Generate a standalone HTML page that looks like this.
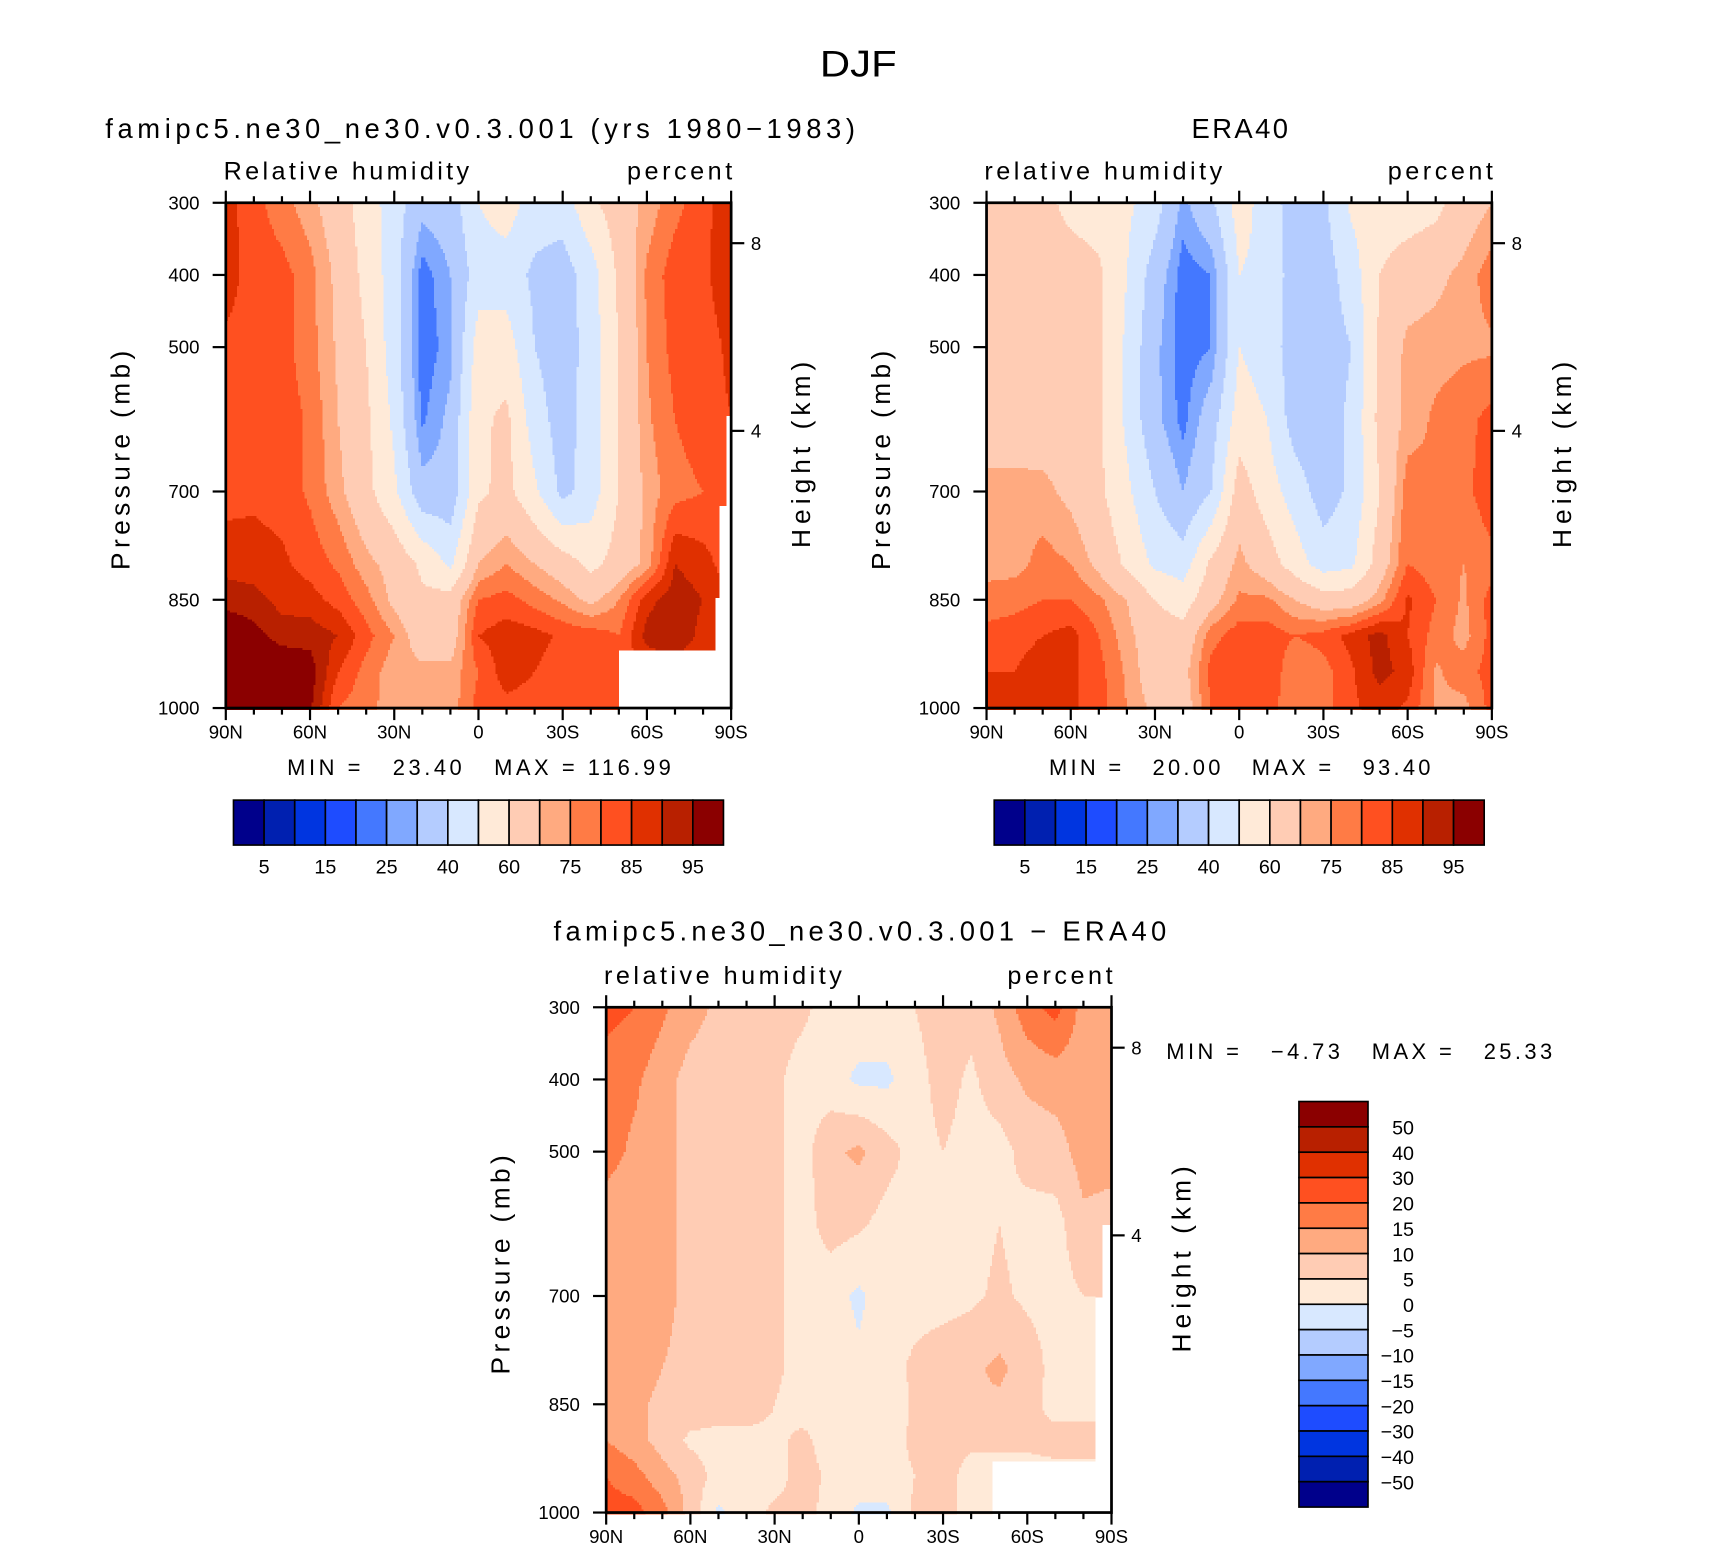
<!DOCTYPE html>
<html><head><meta charset="utf-8"><title>DJF Relative humidity</title>
<style>
html,body{margin:0;padding:0;background:#fff;}
svg{display:block;font-family:"Liberation Sans",sans-serif;}
text{fill:#000;white-space:pre;}
</style></head>
<body>
<svg id="fig" xmlns="http://www.w3.org/2000/svg" width="1710" height="1552" viewBox="0 0 1560 1416" preserveAspectRatio="none">
<rect x="0" y="0" width="1560" height="1416" fill="#fff"/>
<text x="748" y="70" font-size="34" textLength="70" lengthAdjust="spacingAndGlyphs">DJF</text>
<text x="96" y="126" font-size="25" textLength="684" lengthAdjust="spacing">famipc5.ne30_ne30.v0.3.001 (yrs 1980−1983)</text>
<text x="1087" y="126" font-size="25" textLength="88" lengthAdjust="spacing">ERA40</text>
<text x="505" y="858" font-size="25" textLength="559" lengthAdjust="spacing">famipc5.ne30_ne30.v0.3.001 − ERA40</text>
<g id="layers"></g>
</svg>
<script>
// ---- shared axes data ----
const latDeg = [0,10,20,30,40,50,60,70,80,90,100,110,120,130,140,150,160,170,180]; // degrees from 90N
const pLevels = [300,400,500,600,700,800,850,900,950,1000];
const xTickLat = [0,30,60,90,120,150,180];
const xTickLabels = ['90N','60N','30N','0','30S','60S','90S'];
const yTickP = [300,400,500,700,850,1000];
const yTickLabels = ['300','400','500','700','850','1000'];
const heightKm = [8,4];
const heightP = [356,616];
const colors = ['#00008b','#0020b0','#0035e0','#1e4cff','#4478ff','#80a8ff','#b4ccff','#d8e8ff','#ffead8','#ffccb4','#ffaa80','#ff7b45','#ff5020','#e03000','#b82000','#8b0000'];
const rhLevels = [5,10,15,20,25,30,40,50,60,70,75,80,85,90,95];
const rhBarLabels = ['5','15','25','40','60','75','85','95'];
const diffLevels = [-50,-40,-30,-20,-15,-10,-5,0,5,10,15,20,30,40,50];
const diffBarLabels = ['50','40','30','20','15','10','5','0','−5','−10','−15','−20','−30','−40','−50'];

// ---- model RH (rows = pLevels, cols = latDeg) ----
const modelRH = [
[87,82,77,72,65,55,45,33,35,50,55,45,45,58,65,72,78,84,87],
[87,83,82,77,68,57,45,22,30,45,45,38,35,45,62,76,83,84,88],
[84,83,82,77,69,60,45,21,28,55,55,40,34,45,60,75,82,83,86],
[84,84,83,79,70,62,48,24,32,58,62,45,35,45,60,74,80,83,85],
[83,84,83,79,72,63,52,33,33,58,63,52,37,45,60,72,78,80,82],
[88,87,86,83,79,72,67,58,48,70,75,70,65,57,64,72,90,87,82],
[93,92,88,87,83,77,68,62,64,80,82,78,74,68,75,88,93,90,84],
[100,97,93,93,90,82,75,65,65,85,88,87,84,83,80,92,95,88,84],
[100,100,100,98,85,78,72,72,72,80,88,85,82,82,82,85,85,85,85],
[100,100,100,96,80,77,72,70,72,82,83,82,82,82,82,85,85,85,85]
];
// ---- ERA40 RH ----
const eraRH = [
[65,65,63,57,55,52,45,28,38,55,45,35,38,52,55,55,57,65,70],
[65,65,65,65,62,50,35,22,25,50,47,35,35,45,60,65,68,72,78],
[65,65,65,65,62,48,32,22,25,50,45,35,35,40,62,72,73,74,74],
[66,66,65,65,62,48,32,23,35,55,50,35,35,42,63,72,76,78,82],
[72,72,72,68,62,52,40,30,40,65,55,45,35,42,60,78,76,78,84],
[73,73,77,75,68,58,48,45,62,72,65,55,45,48,65,80,77,75,78],
[77,78,80,80,76,70,60,55,67,76,76,70,65,65,73,86,80,74,82],
[82,83,85,87,80,72,65,64,78,83,83,80,82,87,92,85,78,73,82],
[85,85,88,86,82,74,65,67,82,85,85,75,78,84,92,88,74,78,82],
[90,88,87,86,82,75,68,65,80,83,83,75,78,84,87,84,74,73,82]
];
// ---- difference ----
const diffRH = [
[22,20,16,12,9,8,7,6,3,3,3,5,8,7,11,18,22,13,12],
[17,16,12,8,7,7,6,3,2,-1,-1,3,7,4,8,11,12,12,12],
[17,14,12,8,7,7,6,3,9,11,7,3,5,3,3,7,8,12,12],
[12,12,12,8,8,8,6,3,7,6,3,3,3,3,5,3,3,9,8],
[12,12,12,8,8,8,6,3,2,-1,3,3,3,4,6,4,3,5,5],
[12,12,10,8,8,7,6,3,3,1,3,6,8,9,11,8,3,2,3],
[12,11,9,8,8,8,5,3,5,3,1,6,8,10,9,7,3,3,3],
[15,12,8,4,3,3,4,6,3,3,3,6,7,6,6,6,7,7,7],
[20,17,12,8,3,3,3,7,4,3,3,5,7,3,3,3,3,3,3],
[22,22,17,8,-1,3,6,7,3,-1,-1,6,7,3,3,3,3,3,3]
];
// missing-data (below ground) masks: lat >= maskLat && p >= maskP
const modelMaskLat = [139.6,178,176,174];
const modelMaskP = [921,596,718,846];
const diffMaskLat = [137.6,173.8,176.5];
const diffMaskP = [928,701,601];

const NS='http://www.w3.org/2000/svg';
const root=document.getElementById('layers');
function mk(tag,attrs,parent){const e=document.createElementNS(NS,tag);for(const k in attrs)e.setAttribute(k,attrs[k]);(parent||root).appendChild(e);return e;}

function interp(grid,lat,p){
  let ci=Math.min(latDeg.length-2,Math.floor(lat/10));
  const t=(lat-latDeg[ci])/(latDeg[ci+1]-latDeg[ci]);
  let ri=0;while(ri<pLevels.length-2&&p>pLevels[ri+1])ri++;
  const u=(p-pLevels[ri])/(pLevels[ri+1]-pLevels[ri]);
  const a=grid[ri][ci]*(1-t)+grid[ri][ci+1]*t;
  const b=grid[ri+1][ci]*(1-t)+grid[ri+1][ci+1]*t;
  return a*(1-u)+b*u;
}
function levelIdx(v,levels){let k=0;while(k<levels.length&&v>=levels[k])k++;return k;}

function panel(cfg){
  const g=mk('g',{});
  
  
  const x0=cfg.x0,y0=cfg.y0,W=461,H=461;
  const sx=lat=>x0+lat/180*W;
  const sy=p=>y0+(p-300)/700*H;
  const cells=mk('g',{'shape-rendering':'crispEdges'},g);
  
  
  const step=2;
  for(let py=0;py<H;py+=step){
    const p=300+(py+step/2)/H*700;
    let runStart=0,runIdx=-2;
    const flush=(end)=>{
      if(runIdx>=0){
        const r=mk('rect',{x:x0+runStart,y:y0+py,width:end-runStart+0.6,height:step+0.6,fill:colors[runIdx]},cells);
        
        
      }
    };
    for(let px=0;px<W;px+=step){
      const lat=(px+step/2)/W*180;
      let masked=false;
      if(cfg.maskLat)for(let m=0;m<cfg.maskLat.length;m++){if(lat>=cfg.maskLat[m]&&p>=cfg.maskP[m])masked=true;}
      const idx=masked?-1:levelIdx(interp(cfg.grid,lat,p),cfg.levels);
      if(idx!==runIdx){flush(px);runStart=px;runIdx=idx;}
    }
    flush(Math.min(W,Math.ceil(W/step)*step));
  }
  const fr=mk('rect',{x:x0,y:y0,width:W,height:H,fill:'none',stroke:'#000','stroke-width':2.5},g);
  
  
  for(let lat=0;lat<=180;lat+=10){
    const major=lat%30===0,L=major?11:6,x=sx(lat);
    const t1=mk('line',{x1:x,x2:x,y1:y0,y2:y0-L,stroke:'#000','stroke-width':2},g);
    
    
    const t2=mk('line',{x1:x,x2:x,y1:y0+H,y2:y0+H+L,stroke:'#000','stroke-width':2},g);
    
    
  }
  xTickLat.forEach((lat,i)=>{
    const t=mk('text',{x:sx(lat),y:y0+H+28,'font-size':17,'text-anchor':'middle'},g);
    t.textContent=xTickLabels[i];
    
    
  });
  yTickP.forEach((p,i)=>{
    const y=sy(p);
    const l=mk('line',{x1:x0-12,x2:x0,y1:y,y2:y,stroke:'#000','stroke-width':2},g);
    
    
    const t=mk('text',{x:x0-24,y:y+6,'font-size':17,'text-anchor':'end'},g);
    t.textContent=yTickLabels[i];
    
    
  });
  heightP.forEach((p,i)=>{
    const y=sy(p);
    const l=mk('line',{x1:x0+W,x2:x0+W+12,y1:y,y2:y,stroke:'#000','stroke-width':2},g);
    
    
    const t=mk('text',{x:x0+W+18,y:y+6,'font-size':17},g);
    t.textContent=String(heightKm[i]);
    
    
  });
  const yt=mk('text',{x:-100,y:0,'font-size':24,textLength:200,lengthAdjust:'spacing',transform:`translate(${x0-88},${y0+235}) rotate(-90)`},g);
  yt.textContent='Pressure (mb)';
  
  
  const ht=mk('text',{x:-85,y:0,'font-size':24,textLength:170,lengthAdjust:'spacing',transform:`translate(${x0+W+72},${y0+230}) rotate(-90)`},g);
  ht.textContent='Height (km)';
  
  
  const lt=mk('text',{x:x0-2,y:y0-21,'font-size':23,textLength:cfg.leftLen,lengthAdjust:'spacing'},g);
  lt.textContent=cfg.left;
  
  
  const rt=mk('text',{x:x0+W-95,y:y0-21,'font-size':23,textLength:96,lengthAdjust:'spacing'},g);
  rt.textContent='percent';
  
  
}

function hbar(x0,y0,name){
  const g=mk('g',{});
  
  
  const bw=447/16;
  colors.forEach((c,i)=>{
    const r=mk('rect',{x:x0+i*bw,y:y0,width:bw,height:41,fill:c,stroke:'#000','stroke-width':1.5},g);
    
    
  });
  rhBarLabels.forEach((s,i)=>{
    const t=mk('text',{x:x0+(2*i+1)*bw,y:y0+67,'font-size':18,'text-anchor':'middle'},g);
    t.textContent=s;
    
    
  });
}
function vbar(x0,y0){
  const g=mk('g',{});
  
  
  const bh=370/16;
  colors.slice().reverse().forEach((c,i)=>{
    const r=mk('rect',{x:x0,y:y0+i*bh,width:63,height:bh,fill:c,stroke:'#000','stroke-width':1.5},g);
    
    
  });
  diffBarLabels.forEach((s,i)=>{
    const t=mk('text',{x:1290,y:y0+(i+1)*bh+7,'font-size':18,'text-anchor':'end'},g);
    t.textContent=s;
    
    
  });
}
function txt(s,attrs,name){
  const t=mk('text',attrs);t.textContent=s;
  
  
}

panel({name:'model-panel',x0:206,y0:185,grid:modelRH,levels:rhLevels,maskLat:modelMaskLat,maskP:modelMaskP,left:'Relative humidity',leftLen:224});
panel({name:'era40-panel',x0:900,y0:185,grid:eraRH,levels:rhLevels,left:'relative humidity',leftLen:217});
panel({name:'diff-panel',x0:553,y0:919,grid:diffRH,levels:diffLevels,maskLat:diffMaskLat,maskP:diffMaskP,left:'relative humidity',leftLen:217});
hbar(213,730,'model-colorbar');
hbar(907,730,'era40-colorbar');
vbar(1185,1005);
txt('MIN =   23.40   MAX = 116.99',{x:262,y:707,'font-size':20,textLength:350,lengthAdjust:'spacing'},'model-min-max');
txt('MIN =   20.00   MAX =   93.40',{x:957,y:707,'font-size':20,textLength:348,lengthAdjust:'spacing'},'era40-min-max');
txt('MIN =   −4.73   MAX =   25.33',{x:1064,y:966,'font-size':20,textLength:352,lengthAdjust:'spacing'},'diff-min-max');
</script>
</body></html>
